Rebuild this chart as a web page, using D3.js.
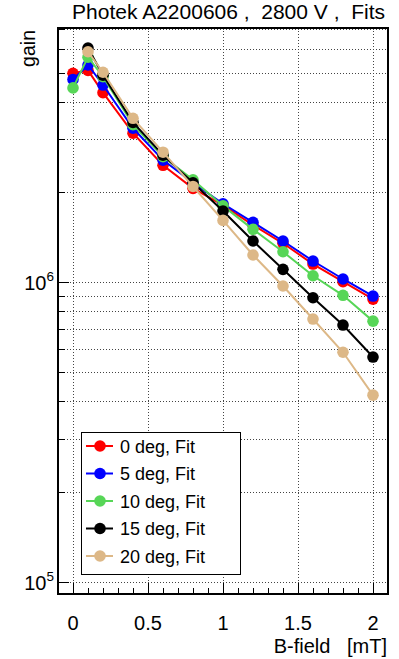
<!DOCTYPE html>
<html>
<head>
<meta charset="utf-8">
<script src="https://cdn.jsdelivr.net/npm/d3@7"></script>
<style>
  html, body { margin: 0; padding: 0; background: #fff; }
  svg { display: block; font-family: "Liberation Sans", Arial, Helvetica, sans-serif; }
</style>
</head>
<body>
<svg id="chart" width="399" height="659"></svg>
<script>
// B-field settings [mT]
const bField = [0, 0.1, 0.2, 0.4, 0.6, 0.8, 1.0, 1.2, 1.4, 1.6, 1.8, 2.0];

// Gain vs B-field for each tilt angle (fit results)
const gain0  = [4.99e6, 5.10e6, 4.30e6, 3.15e6, 2.46e6, 2.06e6, 1.81e6, 1.553e6, 1.35e6, 1.151e6, 1.005e6, 8.79e5];
const gain5  = [4.76e6, 5.32e6, 4.56e6, 3.27e6, 2.56e6, 2.15e6, 1.83e6, 1.586e6, 1.374e6, 1.178e6, 1.026e6, 9.0e5];
const gain10 = [4.46e6, 5.65e6, 4.86e6, 3.36e6, 2.63e6, 2.20e6, 1.80e6, 1.503e6, 1.265e6, 1.052e6, 9.05e5, 7.42e5];
const gain15 = [null, 6.06e6, 4.92e6, 3.42e6, 2.66e6, 2.15e6, 1.73e6, 1.374e6, 1.105e6, 8.88e5, 7.2e5, 5.63e5];
const gain20 = [null, 5.89e6, 5.03e6, 3.53e6, 2.72e6, 2.09e6, 1.61e6, 1.234e6, 9.72e5, 7.54e5, 5.84e5, 4.2e5];

const seriesNames  = ["0 deg, Fit", "5 deg, Fit", "10 deg, Fit", "15 deg, Fit", "20 deg, Fit"];
const seriesColors = ["#ff0000", "#0000ff", "#57d657", "#000000", "#ddb887"];
const seriesValues = [gain0, gain5, gain10, gain15, gain20];

const xTickValues = [0, 0.5, 1, 1.5, 2];
const xTickLabels = ["0", "0.5", "1", "1.5", "2"];
const yLabelDecades = [5, 6];

const titleText = "Photek A2200606 ,  2800 V ,  Fits";
const xTitle = "B-field   [mT]";
const yTitle = "gain";

const svg = d3.select("#chart");
const padL = 58, padR = 388, padT = 28, padB = 594;

const x = d3.scaleLinear().domain([-0.1, 2.1]).range([padL, padR]);
const y = d3.scaleLog().domain([9.1e4, 7.07e6]).range([padB, padT]);

// Grid: dotted lines at major x ticks and at every log tick on y
const yGridVals = [];
for (let e = 4; e <= 6; e++) for (let m = 1; m <= 9; m++) {
  const v = m * Math.pow(10, e);
  if (v >= y.domain()[0] && v <= y.domain()[1]) yGridVals.push(v);
}
const grid = svg.append("g").attr("stroke", "#444").attr("stroke-width", 1).attr("stroke-dasharray", "1,2");
grid.selectAll("line.gx").data(xTickValues).join("line")
  .attr("x1", d => Math.round(x(d)) + 0.5).attr("x2", d => Math.round(x(d)) + 0.5)
  .attr("y1", padT).attr("y2", padB);
grid.selectAll("line.gy").data(yGridVals).join("line")
  .attr("x1", padL).attr("x2", padR)
  .attr("y1", d => Math.round(y(d)) + 0.5).attr("y2", d => Math.round(y(d)) + 0.5);

// Axis ticks (drawn inward from the frame)
const xMinor = d3.range(0, 21).map(i => i / 10).filter(v => !xTickValues.includes(v));
const ticks = svg.append("g").attr("stroke", "#000").attr("stroke-width", 1);
ticks.selectAll("line.xM").data(xTickValues).join("line")
  .attr("x1", d => Math.round(x(d)) + 0.5).attr("x2", d => Math.round(x(d)) + 0.5)
  .attr("y1", padB).attr("y2", padB - 11);
ticks.selectAll("line.xm").data(xMinor).join("line")
  .attr("x1", d => Math.round(x(d)) + 0.5).attr("x2", d => Math.round(x(d)) + 0.5)
  .attr("y1", padB).attr("y2", padB - 6);
ticks.selectAll("line.y").data(yGridVals).join("line")
  .attr("x1", padL).attr("x2", d => padL + (Math.abs(Math.log10(d) % 1) < 1e-9 ? 11 : 7))
  .attr("y1", d => Math.round(y(d)) + 0.5).attr("y2", d => Math.round(y(d)) + 0.5);

// Series: lines + filled circle markers
const line = d3.line().defined(d => d[1] != null).x(d => x(d[0])).y(d => y(d[1]));
seriesValues.forEach((vals, i) => {
  const pts = bField.map((b, j) => [b, vals[j]]);
  const g = svg.append("g");
  g.append("path").datum(pts).attr("d", line)
    .attr("fill", "none").attr("stroke", seriesColors[i]).attr("stroke-width", 2);
  g.selectAll("circle").data(pts.filter(p => p[1] != null)).join("circle")
    .attr("cx", d => x(d[0])).attr("cy", d => y(d[1])).attr("r", 5.8)
    .attr("fill", seriesColors[i]);
});

// Frame
svg.append("rect").attr("x", padL).attr("y", padT).attr("width", padR - padL).attr("height", padB - padT)
  .attr("fill", "none").attr("stroke", "#000").attr("stroke-width", 2);

// X tick labels
svg.append("g").selectAll("text").data(xTickValues).join("text")
  .attr("x", d => x(d)).attr("y", 630).attr("text-anchor", "middle")
  .attr("font-size", 20).text((d, i) => xTickLabels[i]);

// Y tick labels: 10^n
const yl = svg.append("g").selectAll("text").data(yLabelDecades).join("text")
  .attr("x", 54).attr("y", d => y(Math.pow(10, d)) + 8).attr("text-anchor", "end")
  .attr("font-size", 20);
yl.append("tspan").text("10");
yl.append("tspan").attr("font-size", 13.5).attr("dy", -9).text(d => d);

// Axis titles
svg.append("text").attr("x", 387).attr("y", 653).attr("text-anchor", "end")
  .attr("font-size", 20).style("white-space", "pre").text(xTitle);
svg.append("text").attr("transform", "translate(35,30) rotate(-90)")
  .attr("text-anchor", "end").attr("font-size", 19.5).text(yTitle);

// Title
svg.append("text").attr("x", 385).attr("y", 19).attr("text-anchor", "end")
  .attr("font-size", 21).style("white-space", "pre").text(titleText);

// Legend
const lg = svg.append("g");
lg.append("rect").attr("x", 81.5).attr("y", 432.5).attr("width", 159).attr("height", 142)
  .attr("fill", "#fff").attr("stroke", "#000").attr("stroke-width", 1);
const rowY = [446, 473.5, 501, 528.5, 556];
seriesNames.forEach((name, i) => {
  lg.append("line").attr("x1", 86).attr("x2", 113).attr("y1", rowY[i]).attr("y2", rowY[i])
    .attr("stroke", seriesColors[i]).attr("stroke-width", 2);
  lg.append("circle").attr("cx", 100).attr("cy", rowY[i]).attr("r", 5.8).attr("fill", seriesColors[i]);
  lg.append("text").attr("x", 120).attr("y", rowY[i] + 6.5).attr("font-size", 18).text(name);
});
</script>
</body>
</html>
